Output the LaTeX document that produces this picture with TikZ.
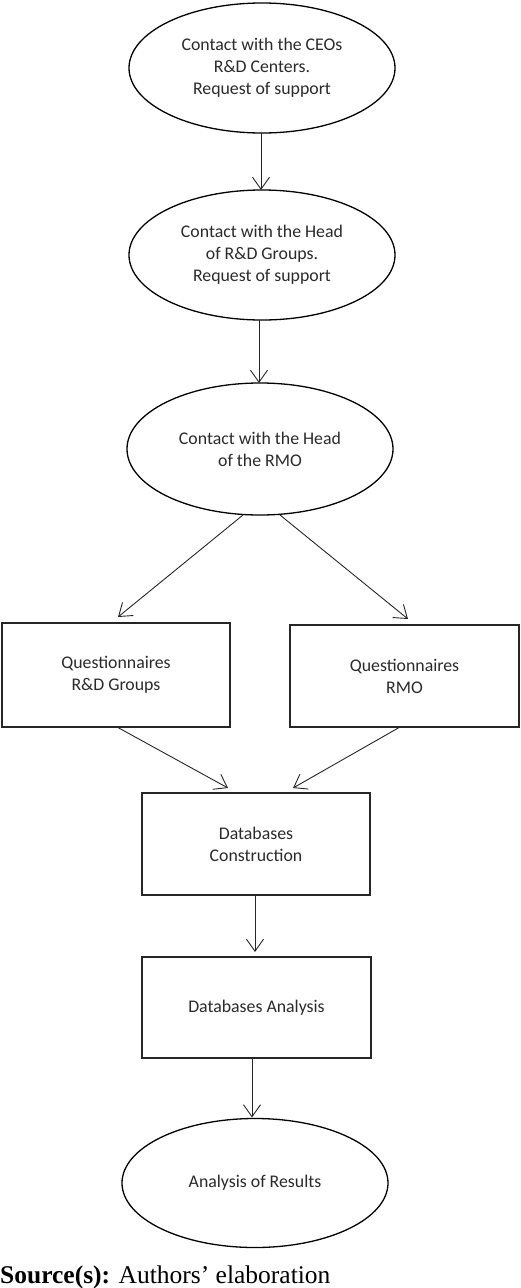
\documentclass[tikz,border=0pt]{standalone}
\usepackage{fontspec}
\setmainfont{Carlito}
\newfontfamily\srcfont{Liberation Serif}
\usetikzlibrary{shapes.geometric,arrows.meta,calc}
\definecolor{txt}{HTML}{2A2A2A}
\tikzset{
  ovalnode/.style={ellipse, draw=black, line width=1.3pt, inner sep=0pt, outer sep=0pt,
    minimum width=266pt, minimum height=130pt, align=center, text=txt,
    font=\fontsize{17.8}{22}\selectfont},
  boxnode/.style={rectangle, draw=black!85, line width=1.8pt, inner sep=0pt, outer sep=0pt,
    minimum width=228pt, minimum height=102pt, align=center, text=txt,
    font=\fontsize{17.8}{22}\selectfont},
  conn/.style={draw=black!85, line width=0.9pt, -{Straight Barb[length=12pt,width=17pt,line width=0.9pt]}},
}
\begin{document}
\begin{tikzpicture}[x=1pt,y=-1pt]
\useasboundingbox (0,0) rectangle (520,1288);
\node[ovalnode] (e1) at (262,68) {Contact with the CEOs\\R\&D Centers.\\Request of support};
\node[ovalnode] (e2) at (262,255) {Contact with the Head\\of R\&D Groups.\\Request of support};
\node[ovalnode, minimum height=132pt] (e3) at (260,449) {Contact with the Head\\of the RMO};
\node[boxnode, minimum height=104pt] (b1) at (116,675) {Questionnaires\\R\&D Groups};
\node[boxnode, minimum width=229pt] (b2) at (404.5,676) {Questionnaires\\RMO};
\node[boxnode] (b3) at (256,844) {Databases\\Construction};
\node[boxnode, minimum width=229pt, minimum height=101pt] (b4) at (256.5,1007.5) {Databases Analysis};
\node[ovalnode, minimum height=129pt] (e4) at (255,1183) {Analysis of Results};
\node[anchor=base west, inner sep=0pt, font=\srcfont\fontsize{25.5}{28}\selectfont, text=black] (src) at (0,1283) {\textbf{Source(s):} Authors’ elaboration};

\draw[conn] ([xshift=-1pt]e1.south) -- ([xshift=-1pt]e2.north);
\draw[conn] ([xshift=-3pt]e2.south) -- ([xshift=-1pt]e3.north);
\draw[conn] ([xshift=-17pt]e3.south) -- ([xshift=2pt,yshift=6pt]b1.north);
\draw[conn] ([xshift=20pt]e3.south) -- ([xshift=3.5pt,yshift=6pt]b2.north);
\draw[conn] ([xshift=1pt]b1.south) -- ([xshift=-28pt,yshift=5pt]b3.north);
\draw[conn] ([xshift=-4.5pt]b2.south) -- ([xshift=37pt,yshift=5pt]b3.north);
\draw[conn] ([xshift=-1pt]b3.south) -- ([xshift=-1.5pt,yshift=5pt]b4.north);
\coordinate (a4) at ($(e4.north)+(-3pt,1pt)$);
\draw[conn] (b4.south -| a4) -- (a4);
\end{tikzpicture}
\end{document}
